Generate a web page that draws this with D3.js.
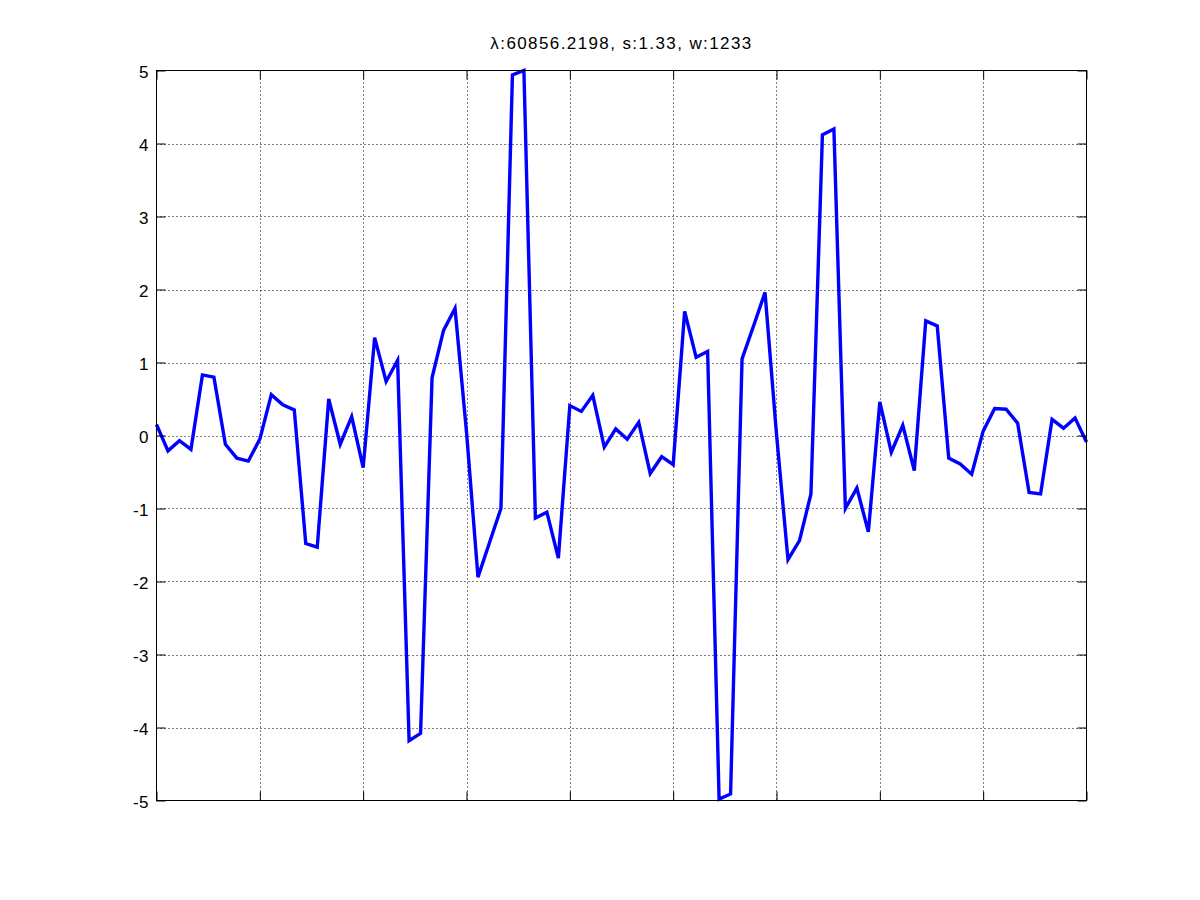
<!DOCTYPE html>
<html>
<head>
<meta charset="utf-8">
<script src="https://cdn.jsdelivr.net/npm/d3@7"></script>
<style>
  html, body { margin: 0; padding: 0; background: #fff; }
  svg { display: block; }
  text { font-family: "Liberation Sans", Arial, Helvetica, sans-serif; }
</style>
</head>
<body>
<svg id="chart" width="1200" height="900"></svg>
<script>
const titleText = "λ:60856.2198, s:1.33, w:1233";
const values = [
  0.15, -0.21, -0.07, -0.19, 0.83, 0.80, -0.12, -0.31, -0.35, -0.05,
  0.56, 0.42, 0.35, -1.48, -1.53, 0.50, -0.12, 0.26, -0.44, 1.34,
  0.74, 1.03, -4.18, -4.08, 0.79, 1.44, 1.74, 0.05, -1.94, -1.47,
  -1.00, 4.94, 5.00, -1.13, -1.05, -1.68, 0.41, 0.33, 0.55, -0.16,
  0.09, -0.05, 0.18, -0.52, -0.29, -0.40, 1.70, 1.07, 1.15, -4.98,
  -4.91, 1.05, 1.50, 1.96, 0.02, -1.70, -1.44, -0.80, 4.12, 4.20,
  -1.00, -0.72, -1.32, 0.46, -0.23, 0.14, -0.48, 1.57, 1.50, -0.31,
  -0.39, -0.53, 0.06, 0.37, 0.36, 0.17, -0.78, -0.80, 0.22, 0.10,
  0.24, -0.09
];
const xTicks = [0, 9, 18, 27, 36, 45, 54, 63, 72, 81];
const yTicks = [-5, -4, -3, -2, -1, 0, 1, 2, 3, 4, 5];

const svg = d3.select("#chart");
const L = 156.5, R = 1086.5, T = 70.5, B = 800.5;

const x = d3.scaleLinear().domain([0, values.length - 1]).range([L, R]);
const y = d3.scaleLinear().domain([-5, 5]).range([B, T]);

// grid
const grid = svg.append("g");
grid.selectAll("line.gx").data(xTicks.slice(1, -1)).enter().append("line")
  .attr("x1", d => Math.round(x(d)) + 0.5).attr("x2", d => Math.round(x(d)) + 0.5)
  .attr("y1", T).attr("y2", B)
  .attr("stroke", "#000").attr("stroke-width", 1).attr("stroke-dasharray", "1,3");
grid.selectAll("line.gy").data(yTicks.slice(1, -1)).enter().append("line")
  .attr("y1", d => Math.round(y(d)) + 0.5).attr("y2", d => Math.round(y(d)) + 0.5)
  .attr("x1", L).attr("x2", R)
  .attr("stroke", "#000").attr("stroke-width", 1).attr("stroke-dasharray", "1,3");

// line
const line = d3.line().x((d, i) => x(i)).y(d => y(d));
svg.append("path").datum(values)
  .attr("d", line)
  .attr("fill", "none")
  .attr("stroke", "#0000ff")
  .attr("stroke-width", 3.4)
  .attr("stroke-linejoin", "miter");

// axes (inward ticks)
const tickLen = 9;
const axL = d3.axisRight(y).tickValues(yTicks).tickSize(tickLen).tickFormat("");
const axR = d3.axisLeft(y).tickValues(yTicks).tickSize(tickLen).tickFormat("");
const axB = d3.axisTop(x).tickValues(xTicks).tickSize(tickLen).tickFormat("");
const axT = d3.axisBottom(x).tickValues(xTicks).tickSize(tickLen).tickFormat("");
function styleAxis(g) {
  g.selectAll("path.domain").attr("stroke", "#000").attr("stroke-width", 1);
  g.selectAll(".tick line").attr("stroke", "#000").attr("stroke-width", 1);
}
svg.append("g").attr("transform", `translate(${L},0)`).call(axL).call(styleAxis);
svg.append("g").attr("transform", `translate(${R},0)`).call(axR).call(styleAxis);
svg.append("g").attr("transform", `translate(0,${B})`).call(axB).call(styleAxis);
svg.append("g").attr("transform", `translate(0,${T})`).call(axT).call(styleAxis);
svg.selectAll("path.domain").attr("d", null);
svg.append("rect").attr("x", L).attr("y", T).attr("width", R - L).attr("height", B - T)
  .attr("fill", "none").attr("stroke", "#000").attr("stroke-width", 1);

// y tick labels
svg.append("g").selectAll("text").data(yTicks).enter().append("text")
  .attr("x", L - 7.5).attr("y", d => y(d) + 1)
  .attr("dy", "0.36em")
  .attr("text-anchor", "end")
  .attr("font-size", 17)
  .attr("letter-spacing", 0.5)
  .attr("fill", "#000")
  .text(d => d);

// title
svg.append("text")
  .attr("x", (L + R) / 2).attr("y", 49)
  .attr("text-anchor", "middle")
  .attr("font-size", 17)
  .attr("letter-spacing", 1.4)
  .attr("fill", "#000")
  .text(titleText);
</script>
</body>
</html>
